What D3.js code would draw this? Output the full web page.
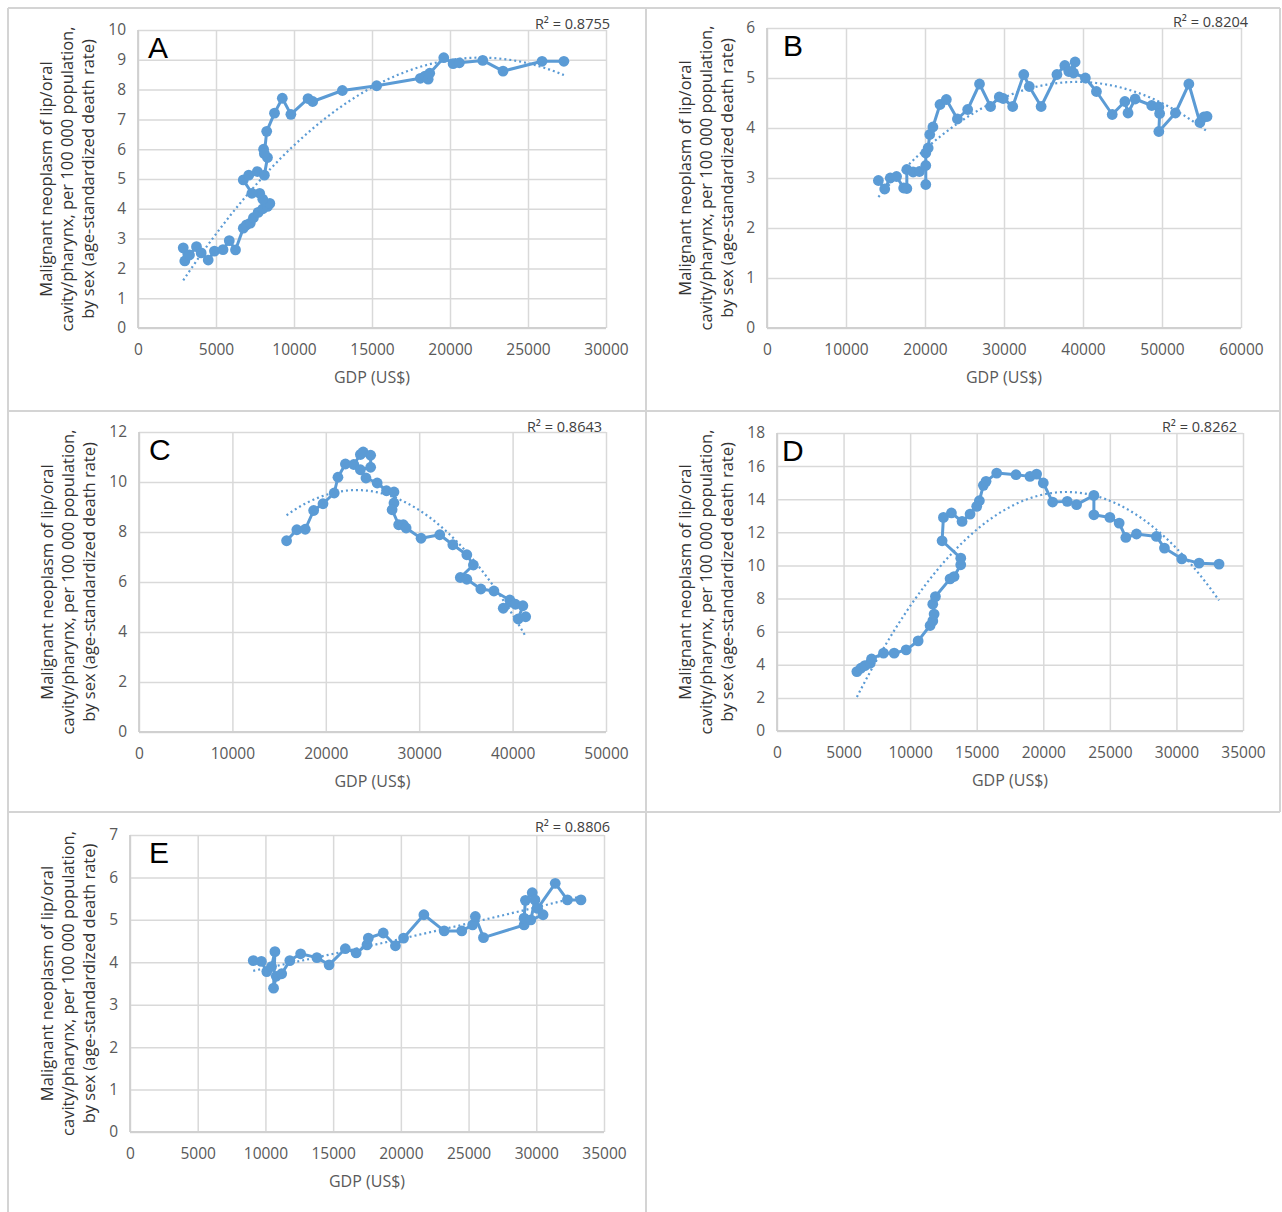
<!DOCTYPE html>
<html>
<head>
<meta charset="utf-8">
<script src="https://cdn.jsdelivr.net/npm/d3@7"></script>
<style>
  body { margin: 0; background: #fff; }
  text { font-family: 'Open Sans', sans-serif; }
</style>
</head>
<body>
<div id="root"></div>
<script>
// Data ////////////////////////////////////////////////////////////////
// GDP (US$) and death rate per 100 000, in the order the line joins them

const gdpA = [2900, 3000, 3300, 3750, 4050, 4500, 4900, 5450, 5850, 6250, 6750, 6950, 7200, 7400, 7700, 8000, 8300, 8450, 8000, 7800, 7300, 6750, 7100, 7650, 8100, 8300, 8050, 8100, 8250, 8750, 9250, 9800, 10900, 11200, 13100, 15300, 18100, 18400, 18600, 18700, 19600, 20200, 20600, 22100, 23400, 25900, 27300];
const rateA = [2.69, 2.25, 2.45, 2.73, 2.52, 2.28, 2.58, 2.63, 2.93, 2.62, 3.35, 3.46, 3.52, 3.7, 3.88, 4.0, 4.08, 4.18, 4.32, 4.52, 4.52, 4.97, 5.13, 5.25, 5.13, 5.72, 6.0, 5.85, 6.6, 7.21, 7.71, 7.17, 7.7, 7.6, 7.97, 8.13, 8.38, 8.45, 8.35, 8.55, 9.07, 8.87, 8.9, 8.98, 8.62, 8.95, 8.95];

const gdpB = [14100, 14900, 15600, 16400, 17300, 17700, 17700, 18500, 19300, 20100, 20100, 20100, 20400, 20600, 21000, 21900, 22700, 24100, 25400, 26900, 28300, 29400, 29900, 31100, 32500, 33200, 34700, 36700, 37700, 38200, 39000, 38800, 40300, 41700, 43700, 45300, 45700, 46600, 48700, 49600, 49700, 49600, 51700, 53400, 54800, 55300, 55700];
const rateB = [2.95, 2.78, 3.0, 3.03, 2.8, 2.79, 3.17, 3.12, 3.13, 3.25, 2.87, 3.5, 3.6, 3.87, 4.02, 4.47, 4.57, 4.18, 4.37, 4.88, 4.43, 4.62, 4.59, 4.43, 5.07, 4.83, 4.43, 5.07, 5.25, 5.13, 5.32, 5.1, 5.0, 4.73, 4.27, 4.53, 4.3, 4.58, 4.45, 4.42, 4.29, 3.93, 4.3, 4.88, 4.11, 4.22, 4.23];

const gdpC = [15800, 16900, 17800, 18700, 19700, 20900, 21300, 22100, 23000, 23700, 24000, 24800, 24800, 23700, 24300, 25500, 26500, 27300, 27300, 27100, 27800, 28300, 28600, 30200, 32200, 33600, 35100, 35800, 34400, 35100, 36600, 38000, 39700, 39000, 40300, 41100, 40600, 41400];
const rateC = [7.65, 8.09, 8.11, 8.86, 9.13, 9.56, 10.19, 10.72, 10.7, 11.1, 11.2, 11.07, 10.59, 10.49, 10.16, 9.96, 9.65, 9.6, 9.16, 8.89, 8.29, 8.29, 8.16, 7.75, 7.89, 7.49, 7.09, 6.68, 6.18, 6.11, 5.72, 5.64, 5.28, 4.95, 5.11, 5.05, 4.52, 4.61];

const gdpD = [6000, 6300, 6600, 7000, 7100, 8000, 8800, 9700, 10600, 11500, 11700, 11800, 11700, 11900, 13000, 13300, 13800, 13800, 12400, 12500, 13100, 13900, 14500, 15000, 15200, 15500, 15700, 16500, 17950, 19000, 19500, 20000, 20700, 21800, 22500, 23800, 23800, 25000, 25700, 26200, 27000, 28500, 29100, 30400, 31700, 33200];
const rateD = [3.59, 3.79, 3.95, 4.09, 4.35, 4.7, 4.7, 4.9, 5.44, 6.37, 6.65, 7.06, 7.66, 8.12, 9.19, 9.33, 10.04, 10.44, 11.49, 12.9, 13.17, 12.66, 13.1, 13.57, 13.91, 14.84, 15.08, 15.58, 15.48, 15.38, 15.52, 14.98, 13.83, 13.87, 13.67, 14.23, 13.06, 12.9, 12.56, 11.69, 11.9, 11.75, 11.05, 10.4, 10.14, 10.08];

const gdpE = [9100, 9700, 10100, 10450, 10700, 10600, 10800, 11200, 11800, 12600, 13800, 14700, 15900, 16700, 17500, 17600, 18700, 19600, 20200, 21700, 23200, 24500, 25300, 25500, 26100, 29100, 29100, 29200, 29700, 29900, 29600, 30500, 30100, 31400, 32300, 33300];
const rateE = [4.04, 4.02, 3.78, 3.9, 4.25, 3.39, 3.67, 3.73, 4.04, 4.2, 4.11, 3.94, 4.32, 4.22, 4.41, 4.57, 4.69, 4.39, 4.57, 5.12, 4.74, 4.74, 4.88, 5.08, 4.58, 4.88, 5.04, 5.46, 5.64, 5.47, 5.0, 5.12, 5.27, 5.86, 5.47, 5.47];

// Tick values
const xTicksA = [0, 5000, 10000, 15000, 20000, 25000, 30000];
const yTicksA = [0, 1, 2, 3, 4, 5, 6, 7, 8, 9, 10];
const xTicksB = [0, 10000, 20000, 30000, 40000, 50000, 60000];
const yTicksB = [0, 1, 2, 3, 4, 5, 6];
const xTicksC = [0, 10000, 20000, 30000, 40000, 50000];
const yTicksC = [0, 2, 4, 6, 8, 10, 12];
const xTicksD = [0, 5000, 10000, 15000, 20000, 25000, 30000, 35000];
const yTicksD = [0, 2, 4, 6, 8, 10, 12, 14, 16, 18];
const xTicksE = [0, 5000, 10000, 15000, 20000, 25000, 30000, 35000];
const yTicksE = [0, 1, 2, 3, 4, 5, 6, 7];

const letters = ['A', 'B', 'C', 'D', 'E'];
const r2Labels = ['R² = 0.8755', 'R² = 0.8204', 'R² = 0.8643', 'R² = 0.8262', 'R² = 0.8806'];
const yTitle = ['Malignant neoplasm of lip/oral', 'cavity/pharynx, per 100 000 population,', 'by sex (age-standardized death rate)'];
const xTitle = 'GDP (US$)';

// Layout //////////////////////////////////////////////////////////////
const blue = '#5b9bd5';
const grid = '#d9d9d9';

const panels = [
  { gdp: gdpA, rate: rateA, xt: xTicksA, yt: yTicksA, l: 138, r: 606, t: 30, b: 328, titleX: 67, letterX: 148, r2x: 610, r2y: 24 },
  { gdp: gdpB, rate: rateB, xt: xTicksB, yt: yTicksB, l: 767, r: 1241, t: 28, b: 328, titleX: 706, letterX: 783, r2x: 1248, r2y: 22 },
  { gdp: gdpC, rate: rateC, xt: xTicksC, yt: yTicksC, l: 139, r: 606, t: 432, b: 732, titleX: 68, letterX: 149, r2x: 602, r2y: 427 },
  { gdp: gdpD, rate: rateD, xt: xTicksD, yt: yTicksD, l: 777, r: 1243, t: 433, b: 731, titleX: 706, letterX: 782, r2x: 1237, r2y: 427 },
  { gdp: gdpE, rate: rateE, xt: xTicksE, yt: yTicksE, l: 130, r: 604, t: 835, b: 1132, titleX: 68, letterX: 149, r2x: 610, r2y: 827 },
];

const svg = d3.select('#root').append('svg')
  .attr('width', 1282).attr('height', 1212)
  .style('display', 'block');

svg.append('rect').attr('width', 1282).attr('height', 1212).attr('fill', '#fff');

// Panel frames ////////////////////////////////////////////////////////
const frameLines = [
  [8, 8, 1280, 8], [8, 8, 8, 1212], [646, 8, 646, 1212], [1280, 8, 1280, 812],
  [8, 411, 1280, 411], [8, 812, 1280, 812],
];
svg.append('g').selectAll('line').data(frameLines).enter().append('line')
  .attr('x1', (d) => d[0]).attr('y1', (d) => d[1])
  .attr('x2', (d) => d[2]).attr('y2', (d) => d[3])
  .attr('stroke', '#d4d4d4').attr('stroke-width', 2);

// least squares y = a + b x + c x^2 (like the Excel polynomial trendline)
function quadFit(xs, ys) {
  let s = [0, 0, 0, 0, 0];
  let t = [0, 0, 0];
  xs.forEach((x, i) => {
    let p = 1;
    for (let k = 0; k < 5; k++) {
      s[k] += p;
      if (k < 3) t[k] += p * ys[i];
      p *= x;
    }
  });
  let m = [
    [s[0], s[1], s[2], t[0]],
    [s[1], s[2], s[3], t[1]],
    [s[2], s[3], s[4], t[2]],
  ];
  for (let i = 0; i < 3; i++) {
    for (let j = i + 1; j < 3; j++) {
      let f = m[j][i] / m[i][i];
      for (let k = i; k < 4; k++) m[j][k] -= f * m[i][k];
    }
  }
  let c = [0, 0, 0];
  for (let i = 2; i >= 0; i--) {
    let v = m[i][3];
    for (let k = i + 1; k < 3; k++) v -= m[i][k] * c[k];
    c[i] = v / m[i][i];
  }
  return (x) => c[0] + c[1] * x + c[2] * x * x;
}

// Charts //////////////////////////////////////////////////////////////
panels.forEach((p, idx) => {
  const g = svg.append('g');
  const w = p.r - p.l;
  const h = p.b - p.t;

  const x = d3.scaleLinear().domain([0, d3.max(p.xt)]).range([p.l, p.r]);
  const y = d3.scaleLinear().domain([0, d3.max(p.yt)]).range([p.b, p.t]);

  // gridlines
  g.append('g')
    .attr('transform', `translate(0, ${p.b})`)
    .call(d3.axisBottom(x).tickValues(p.xt).tickSize(-h).tickFormat(''))
    .call((s) => s.select('.domain').remove())
    .selectAll('line').attr('stroke', grid).attr('stroke-width', 1.5);
  g.append('g')
    .attr('transform', `translate(${p.l}, 0)`)
    .call(d3.axisLeft(y).tickValues(p.yt).tickSize(-w).tickFormat(''))
    .call((s) => s.select('.domain').remove())
    .selectAll('line').attr('stroke', grid).attr('stroke-width', 1.5);

  // axis lines
  g.append('line').attr('x1', p.l).attr('x2', p.r).attr('y1', p.b).attr('y2', p.b)
    .attr('stroke', '#d0d0d0').attr('stroke-width', 1.8);
  g.append('line').attr('x1', p.l).attr('x2', p.l).attr('y1', p.t).attr('y2', p.b)
    .attr('stroke', '#d0d0d0').attr('stroke-width', 1.8);

  // tick labels
  const xAxis = g.append('g')
    .attr('transform', `translate(0, ${p.b})`)
    .call(d3.axisBottom(x).tickValues(p.xt).tickSize(0).tickPadding(16).tickFormat(d3.format('d')));
  const yAxis = g.append('g')
    .attr('transform', `translate(${p.l}, 0)`)
    .call(d3.axisLeft(y).tickValues(p.yt).tickSize(0).tickPadding(12).tickFormat(d3.format('d')));
  [xAxis, yAxis].forEach((a) => {
    a.select('.domain').remove();
    a.selectAll('text')
      .attr('fill', '#595959')
      .style('font-size', '15.5px')
      .style('font-family', "'Open Sans', sans-serif");
  });

  // axis titles
  g.append('text')
    .attr('x', (p.l + p.r) / 2).attr('y', p.b + 49).attr('dy', '0.35em')
    .attr('text-anchor', 'middle').attr('fill', '#595959')
    .style('font-size', '16px')
    .text(xTitle);

  yTitle.forEach((line, i) => {
    const cx = p.titleX + (i - 1) * 21;
    const cy = (p.t + p.b) / 2;
    g.append('text')
      .attr('transform', `translate(${cx}, ${cy}) rotate(-90)`)
      .attr('dy', '0.35em')
      .attr('text-anchor', 'middle').attr('fill', '#333')
      .style('font-size', '16.5px')
      .text(line);
  });

  // panel letter and R²
  g.append('text')
    .attr('x', p.letterX).attr('y', p.t + 28)
    .style('font-family', "'Liberation Sans', Arial, sans-serif")
    .style('font-size', '30px').attr('fill', '#000')
    .text(letters[idx]);
  g.append('text')
    .attr('x', p.r2x).attr('y', p.r2y).attr('dy', '0.35em')
    .attr('text-anchor', 'end').attr('fill', '#404040')
    .style('font-size', '14.5px')
    .text(r2Labels[idx]);

  // trendline (polynomial, order 2)
  const fit = quadFit(p.gdp.map((v) => v / 1000), p.rate);
  const x0 = d3.min(p.gdp);
  const x1 = d3.max(p.gdp);
  const xs = d3.range(81).map((i) => x0 + ((x1 - x0) * i) / 80);
  g.append('path')
    .datum(xs)
    .attr('d', d3.line().x((d) => x(d)).y((d) => y(fit(d / 1000))))
    .attr('fill', 'none').attr('stroke', blue)
    .attr('stroke-width', 2.2).attr('stroke-dasharray', '2,3');

  // series line and markers
  const pts = p.gdp.map((v, i) => [v, p.rate[i]]);
  g.append('path')
    .datum(pts)
    .attr('d', d3.line().x((d) => x(d[0])).y((d) => y(d[1])))
    .attr('fill', 'none').attr('stroke', blue)
    .attr('stroke-width', 3).attr('stroke-linejoin', 'round');

  g.selectAll('circle.pt')
    .data(pts)
    .enter()
    .append('circle')
    .attr('class', 'pt')
    .attr('cx', (d) => x(d[0]))
    .attr('cy', (d) => y(d[1]))
    .attr('r', 5.4)
    .attr('fill', blue);
});
</script>
</body>
</html>
